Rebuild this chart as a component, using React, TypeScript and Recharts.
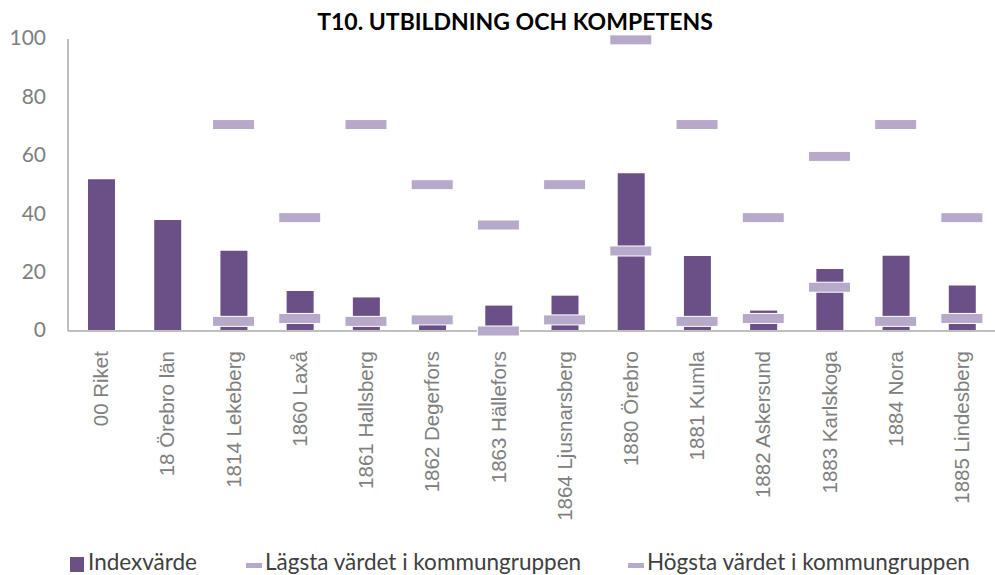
import React from "react";
import { ComposedChart, Bar, Line, XAxis, YAxis } from "recharts";

const categories = [
  "00 Riket", "18 Örebro län", "1814 Lekeberg", "1860 Laxå", "1861 Hallsberg",
  "1862 Degerfors", "1863 Hällefors", "1864 Ljusnarsberg", "1880 Örebro",
  "1881 Kumla", "1882 Askersund", "1883 Karlskoga", "1884 Nora", "1885 Lindesberg",
];
const indexValues = [52, 38, 27.5, 13.7, 11.5, 3, 8.7, 12.1, 54, 25.7, 7, 21.2, 25.8, 15.6];
const minValues = [null, null, 3.3, 4.3, 3.3, 3.8, 0, 3.8, 27.4, 3.3, 4.3, 15, 3.3, 4.3];
const maxValues = [null, null, 70.7, 38.8, 70.7, 50.1, 36.3, 50.1, 99.7, 70.7, 38.8, 59.8, 70.7, 38.8];
const yTicks = [0, 20, 40, 60, 80, 100];
const seriesNames = ["Indexvärde", "Lägsta värdet i kommungruppen", "Högsta värdet i kommungruppen"];
const title = "T10. UTBILDNING OCH KOMPETENS";

const data = categories.map((c, i) => ({
  name: c,
  idx: indexValues[i],
  min: minValues[i],
  max: maxValues[i],
}));

const BAR = "#6A5086";
const DASH = "#B6A9C9";

const DashDot = (props: any) => {
  const { cx, cy, value } = props;
  if (value == null || cy == null || isNaN(cy)) return <g />;
  return <rect x={cx - 21} y={cy - 5} width={42} height={10} fill={DASH} stroke="#fff" strokeWidth={1} />;
};

const XTick = (props: any) => {
  const { x, y, payload } = props;
  return (
    <text
      x={x}
      y={y}
      transform={`rotate(-90, ${x}, ${y})`}
      textAnchor="end"
      dy="0.35em"
      fill="#808080"
      fontSize={20.5}
      fontFamily="'Liberation Sans', Arial, sans-serif"
    >
      {payload.value}
    </text>
  );
};

export default function App() {
  return (
    <div style={{ position: "absolute", left: 0, top: 0, width: 995, height: 575, background: "#fff" }}>
      <div
        style={{
          position: "absolute", left: 0, top: 7, width: 1030, textAlign: "center",
          fontFamily: "Lato, sans-serif", fontWeight: 700, fontSize: 23, color: "#000",
        }}
      >
        {title}
      </div>
      <ComposedChart width={995} height={575} data={data} margin={{ top: 39, right: 0, bottom: 0, left: 0 }}>
        <YAxis
          domain={[0, 100]}
          ticks={yTicks}
          width={68}
          axisLine={{ stroke: "#BFBFBF", strokeWidth: 2 }}
          tickLine={false}
          tick={{ fill: "#808080", fontSize: 21, fontFamily: "Lato, sans-serif", dx: -14, dy: -1 }}
          interval={0}
        />
        <XAxis
          dataKey="name"
          height={244}
          axisLine={{ stroke: "#BFBFBF", strokeWidth: 2 }}
          tickLine={false}
          interval={0}
          tick={<XTick />}
          tickMargin={14}
        />
        <Bar dataKey="idx" fill={BAR} barSize={27} isAnimationActive={false} />
        <Line dataKey="max" stroke="none" dot={<DashDot />} activeDot={false} isAnimationActive={false} connectNulls={false} />
        <Line dataKey="min" stroke="none" dot={<DashDot />} activeDot={false} isAnimationActive={false} connectNulls={false} />
      </ComposedChart>
      <div
        style={{
          position: "absolute", left: 0, top: 548, width: 995, height: 27,
          fontFamily: "Lato, sans-serif", fontSize: 22.5, color: "#404040",
        }}
      >
        <div style={{ position: "absolute", left: 70, top: 9, width: 14, height: 15, background: BAR }} />
        <div style={{ position: "absolute", left: 88, top: 0, whiteSpace: "nowrap" }}>{seriesNames[0]}</div>
        <div style={{ position: "absolute", left: 246, top: 15, width: 16, height: 5, background: DASH }} />
        <div style={{ position: "absolute", left: 265, top: 0, whiteSpace: "nowrap" }}>{seriesNames[1]}</div>
        <div style={{ position: "absolute", left: 628, top: 15, width: 16, height: 5, background: DASH }} />
        <div style={{ position: "absolute", left: 647, top: 0, whiteSpace: "nowrap" }}>{seriesNames[2]}</div>
      </div>
    </div>
  );
}
